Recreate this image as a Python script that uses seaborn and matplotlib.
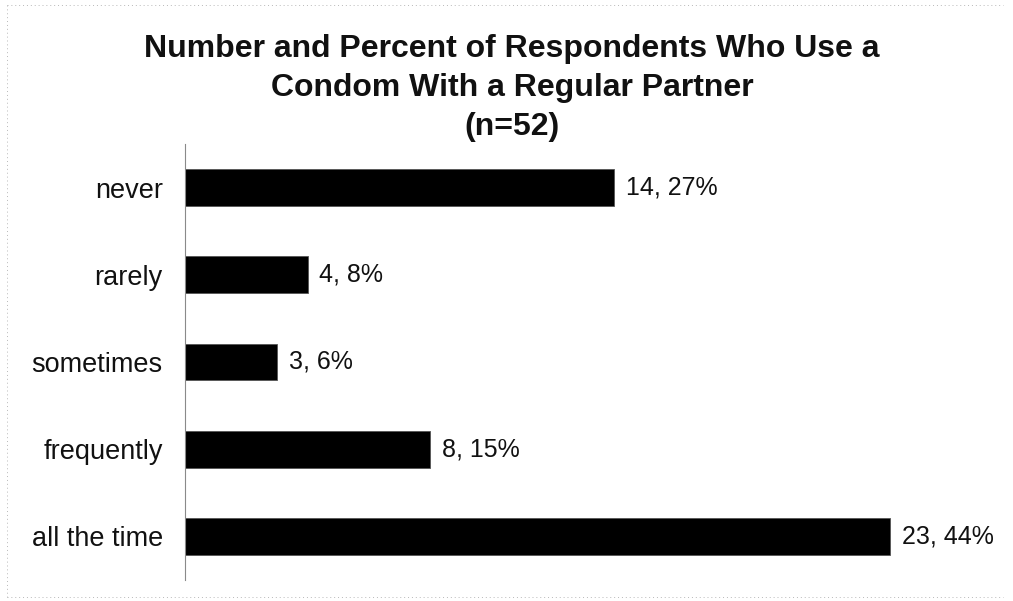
import matplotlib
matplotlib.use("Agg")
import matplotlib.pyplot as plt
from matplotlib.lines import Line2D
import seaborn as sns
import pandas as pd

categories = ["never", "rarely", "sometimes", "frequently", "all the time"]
counts = [14, 4, 3, 8, 23]
percents = [27, 8, 6, 15, 44]
title_lines = [
    "Number and Percent of Respondents Who Use a",
    "Condom With a Regular Partner",
    "(n=52)",
]

sns.set_theme(style="white")
plt.rcParams["font.family"] = ["Liberation Sans", "DejaVu Sans"]

df = pd.DataFrame({"response": categories, "count": counts, "pct": percents})

W, H = 1013, 601
fig = plt.figure(figsize=(W / 100, H / 100), dpi=100)
ax = fig.add_axes([185 / W, 21 / H, (985 - 185) / W, (H - 144 - 21) / H])

sns.barplot(data=df, y="response", x="count", order=categories, color="black",
            orient="h", width=0.42, edgecolor="#555555", linewidth=0.6, ax=ax)

for i, (n, p) in enumerate(zip(counts, percents)):
    ax.text(n + 0.38, i, f"{n}, {p}%", va="center", ha="left", fontsize=18,
            color="#111111")

ax.set_xlim(0, 26.1)
ax.set_ylim(4.5, -0.5)
ax.set_xlabel("")
ax.set_ylabel("")
ax.set_xticks([])
ax.tick_params(axis="y", length=0, pad=16, labelsize=19.5, labelcolor="#111111")
for side in ["top", "right", "bottom"]:
    ax.spines[side].set_visible(False)
ax.spines["left"].set_color("#8a8a8a")
ax.spines["left"].set_linewidth(0.8)
ax.spines["left"].set_linestyle((0, (3, 1)))

fig.text(512 / W, 1 - 88 / H, "\n".join(title_lines), ha="center", va="center",
         fontsize=23, fontweight="bold", linespacing=1.4, color="#111111")

# faint dotted frame around the figure
frame_style = dict(color="#9a9a9a", lw=0.7, linestyle=(0, (1, 3)), alpha=0.7)
fig.add_artist(Line2D([7 / W, 7 / W], [1 - 5 / H, 1 - 597 / H], transform=fig.transFigure, **frame_style))
fig.add_artist(Line2D([7 / W, 0.99], [1 - 5 / H, 1 - 5 / H], transform=fig.transFigure, **frame_style))
fig.add_artist(Line2D([7 / W, 0.99], [1 - 597 / H, 1 - 597 / H], transform=fig.transFigure, **frame_style))

fig.savefig("out.png", dpi=100, facecolor="white")
